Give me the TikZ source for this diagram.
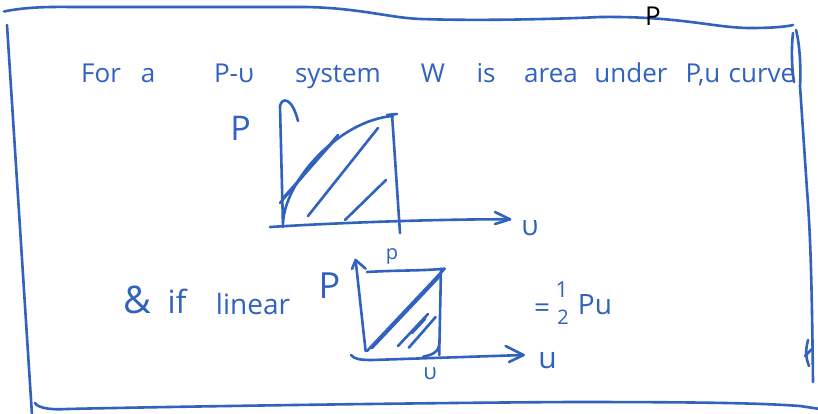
\documentclass[tikz,border=0pt]{standalone}
\usepackage{fontspec}
\setmainfont{Open Sans}
\definecolor{ink}{RGB}{48,98,190}
\tikzset{
  pen/.style={draw=ink, line width=2.6pt, line cap=round, line join=round},
  word/.style={text=ink, inner sep=0pt, anchor=base, font=\fontsize{26}{30}\selectfont},
  lbl/.style={text=ink, inner sep=0pt, anchor=center},
}
\newcommand{\fs}[1]{\fontsize{#1}{#1}\selectfont}
\begin{document}
\begin{tikzpicture}[x=1pt,y=-1pt]
\useasboundingbox (0,0) rectangle (818,413);
\clip (0,0) rectangle (818,413);
\fill[white] (0,0) rectangle (818,413);

% ---------- frame ----------
\draw[pen] (4,11.5) .. controls (30,6) and (60,7) .. (77,7) -- (306,7)
  .. controls (360,8) and (390,18) .. (421,19)
  .. controls (480,21) and (560,19) .. (600,17)
  .. controls (680,16) and (715,28) .. (750,28)
  .. controls (770,28) and (785,27) .. (793,25);
\draw[pen] (7,25) -- (32,415);
\draw[pen] (35,403) .. controls (38,408) and (50,410) .. (67,409)
  .. controls (150,407) and (400,403) .. (570,402)
  .. controls (700,402) and (760,403) .. (800,406) -- (820,409);
\draw[pen] (793,33) .. controls (791,50) and (792,70) .. (794,82);
\draw[pen] (796,30) .. controls (800,45) and (801,70) .. (800,86)
  -- (807,190) .. controls (811,240) and (812,300) .. (813,382);
\draw[pen] (808,340) .. controls (805,352) and (806,358) .. (809,366);
\draw[pen] (805,356) -- (812,349);
\node[text=black, inner sep=0pt, font=\fs{26}] (topP) at (653,16) {P};

% ---------- line 1 ----------
\node[word] (w1) at (101,82) {For};
\node[word] (w2) at (148,82) {a};
\node[word] (w3) at (234,82) {P-υ};
\node[word] (w4) at (338,82) {system};
\node[word] (w5) at (433,82) {W};
\node[word] (w6) at (486,82) {is};
\node[word] (w7) at (551,82) {area};
\node[word] (w8) at (631,82) {under};
\node[word] (w9) at (703,82) {P,u};
\node[word] (w10) at (762,82) {curve};

% ---------- graph 1 ----------
\coordinate (a1b) at (283,227);
\coordinate (a1t) at (280,106);
\coordinate (h1) at (298,121);
\draw[pen] (a1b) -- (a1t) .. controls (282,97) and (292,97) .. (h1);
\coordinate (x1s) at (270,227);
\coordinate (x1e) at (510,219.3);
\draw[pen] (x1s) .. controls (350,222) and (450,219) .. (x1e);
\draw[pen] (495,212) -- (x1e) -- (495,224);
\draw[pen] (283,223) .. controls (285,180) and (340,120) .. (393,116);
\draw[pen] (392,114) -- (400,233);
\draw[pen] (387,115) -- (397,114);
\draw[pen] (280,203) -- (338,135);
\draw[pen] (284,197) -- (337,137.5);
\draw[pen] (308,216) -- (378,128);
\draw[pen] (345,220) -- (386,180);
\node[lbl, font=\fs{34}] (P1) at (240.5,128) {P};
\node[lbl, font=\fs{28}] (v1) at (530,228) {υ};

% ---------- graph 2 ----------
\node[word, font=\fs{38}] (amp) at (137,313) {\&};
\node[word, font=\fs{32}] (if) at (177,313) {if};
\node[word, font=\fs{28}] (lin) at (253,314) {linear};
\node[lbl, font=\fs{36}] (P2) at (329.5,286) {P};

\coordinate (a2b) at (365.6,351);
\coordinate (a2t) at (355.6,260);
\draw[pen] (a2b) -- (a2t);
\draw[pen] (352,269) -- (a2t) -- (365.6,268.7);
\coordinate (tl) at (367,272);
\coordinate (tr) at (444.6,268.7);
\draw[pen] (tl) .. controls (400,270) and (420,271) .. (tr);
\draw[pen] (441,268.7) -- (439.2,355);
\draw[pen] (367,351) -- (tr);
\draw[pen] (372,348) -- (440,276);
\draw[pen] (398,346) -- (428,314);
\draw[pen] (408.7,347.7) .. controls (420,335) .. (435.6,317);
\draw[pen] (412,333) -- (425,319);
\draw[pen] (423,356.7) .. controls (432,355) and (438,352) .. (439,346);
\coordinate (x2s) at (351,355);
\coordinate (x2e) at (523.6,355);
\draw[pen] (x2s) .. controls (354,359) and (360,360) .. (372,360) -- (x2e);
\draw[pen] (505.6,346) -- (x2e) -- (509,362);
\node[lbl, font=\fs{20}] (p2) at (392,256) {p};
\node[lbl, font=\fs{22}] (v2) at (430,374) {υ};
\node[lbl, font=\fs{30}] (u2) at (547.5,361) {u};
\node[lbl, font=\fs{28}] (eq) at (542,311) {=};
\node[lbl, font=\fs{22}] (one) at (562,290) {1};
\node[lbl, font=\fs{20}] (two) at (563,317) {2};
\node[lbl, font=\fs{28}] (Pu) at (595,305) {Pu};
\end{tikzpicture}
\end{document}
